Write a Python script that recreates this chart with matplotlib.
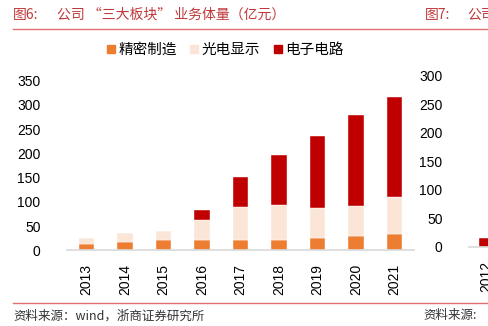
import matplotlib
matplotlib.use("Agg")
import matplotlib.pyplot as plt
from matplotlib.lines import Line2D
import numpy as np

years = ['2013', '2014', '2015', '2016', '2017', '2018', '2019', '2020', '2021']
precision = [12, 18, 21, 21, 21, 21, 25, 30, 34]
display = [13, 17, 18, 42, 68, 73, 63, 62, 77]
circuit = [0, 0, 0, 20, 63, 103, 147, 188, 206]
series_names = ['精密制造', '光电显示', '电子电路']
yticks_left = [0, 50, 100, 150, 200, 250, 300, 350]

right_years = ['2012']
right_values = [16]
yticks_right = [0, 50, 100, 150, 200, 250, 300]

colors = ['#ED7D31', '#FBE5D6', '#C00000']
title_color = '#C0393B'
line_color = '#E07070'
cjk = ['Noto Sans CJK SC', 'DejaVu Sans']
num_font = ['Liberation Sans', 'DejaVu Sans']

plt.rcParams['font.family'] = cjk

fig = plt.figure(figsize=(4.88, 3.26), dpi=100)

# main axes
ax = fig.add_axes([67/488, 1-250.3/326, 347/488, 169.6/326])
x = np.arange(len(years))
w = 0.4
bottom = np.zeros(len(years))
for vals, c in zip([precision, display, circuit], colors):
    ax.bar(x, vals, w, bottom=bottom, color=c, edgecolor='white', linewidth=0.3)
    bottom += np.array(vals)
ax.set_xlim(-0.5, len(years) - 0.5)
ax.set_ylim(0, 350)
ax.set_yticks(yticks_left)
ax.set_xticks(x)
ax.set_xticklabels(years, rotation=90, family=num_font, fontsize=10)
for lab in ax.get_yticklabels():
    lab.set_family(num_font)
    lab.set_fontsize(10)
ax.tick_params(axis='y', length=0, pad=19)
ax.tick_params(axis='x', length=0, pad=10)
for s in ['top', 'right', 'left']:
    ax.spines[s].set_visible(False)
ax.spines['bottom'].set_color('#D9D9D9')
ax.spines['bottom'].set_linewidth(1.2)

# right partial axes
ax2 = fig.add_axes([469/488, 1-247/326, 315/488, 171.3/326])
x2 = np.arange(len(right_years))
ax2.bar(x2, right_values, 0.43, color=colors[2], edgecolor='white', linewidth=0.3)
ax2.set_xlim(-0.5, 8.5)
ax2.set_ylim(0, 300)
ax2.set_yticks(yticks_right)
ax2.set_xticks(x2)
ax2.set_xticklabels(right_years, rotation=90, family=num_font, fontsize=10)
for lab in ax2.get_yticklabels():
    lab.set_family(num_font)
    lab.set_fontsize(10)
ax2.tick_params(axis='y', length=0, pad=19)
ax2.tick_params(axis='x', length=0, pad=10)
for s in ['top', 'right', 'left']:
    ax2.spines[s].set_visible(False)
ax2.spines['bottom'].set_color('#D9D9D9')
ax2.spines['bottom'].set_linewidth(1.2)

# titles
fig.text(13/488, 1-15/326, '图6:', color=title_color, fontsize=10, va='center', ha='left')
fig.text(57/488, 1-15/326, '公司 “三大板块” 业务体量（亿元）', color=title_color, fontsize=10,
         va='center', ha='left')
fig.text(425/488, 1-15/326, '图7:', color=title_color, fontsize=10, va='center', ha='left')
fig.text(467/488, 1-15/326, '公司', color=title_color, fontsize=10, va='center', ha='left')

# header/footer lines
fig.add_artist(Line2D([13/488, 1.0], [1-28.5/326, 1-28.5/326], color=line_color, lw=1.0))
fig.add_artist(Line2D([13/488, 1.0], [1-303/326, 1-303/326], color=line_color, lw=1.0))

# sources
fig.text(13/488, 1-316/326, '资料来源：wind，浙商证券研究所', color='#333333', fontsize=9,
         va='center', ha='left')
fig.text(423/488, 1-316/326, '资料来源:', color='#333333', fontsize=9, va='center', ha='left')

# legend
handles = [Line2D([0], [0], marker='s', linestyle='none', markersize=6,
                  markerfacecolor=c, markeredgecolor=c) for c in colors]
fig.legend(handles, series_names, loc='center', bbox_to_anchor=(225/488, 1-50/326), ncol=3,
           frameon=False, fontsize=10.5, handlelength=0.6, handletextpad=0.2,
           columnspacing=0.9, borderpad=0)

fig.savefig('out.png', dpi=100)
